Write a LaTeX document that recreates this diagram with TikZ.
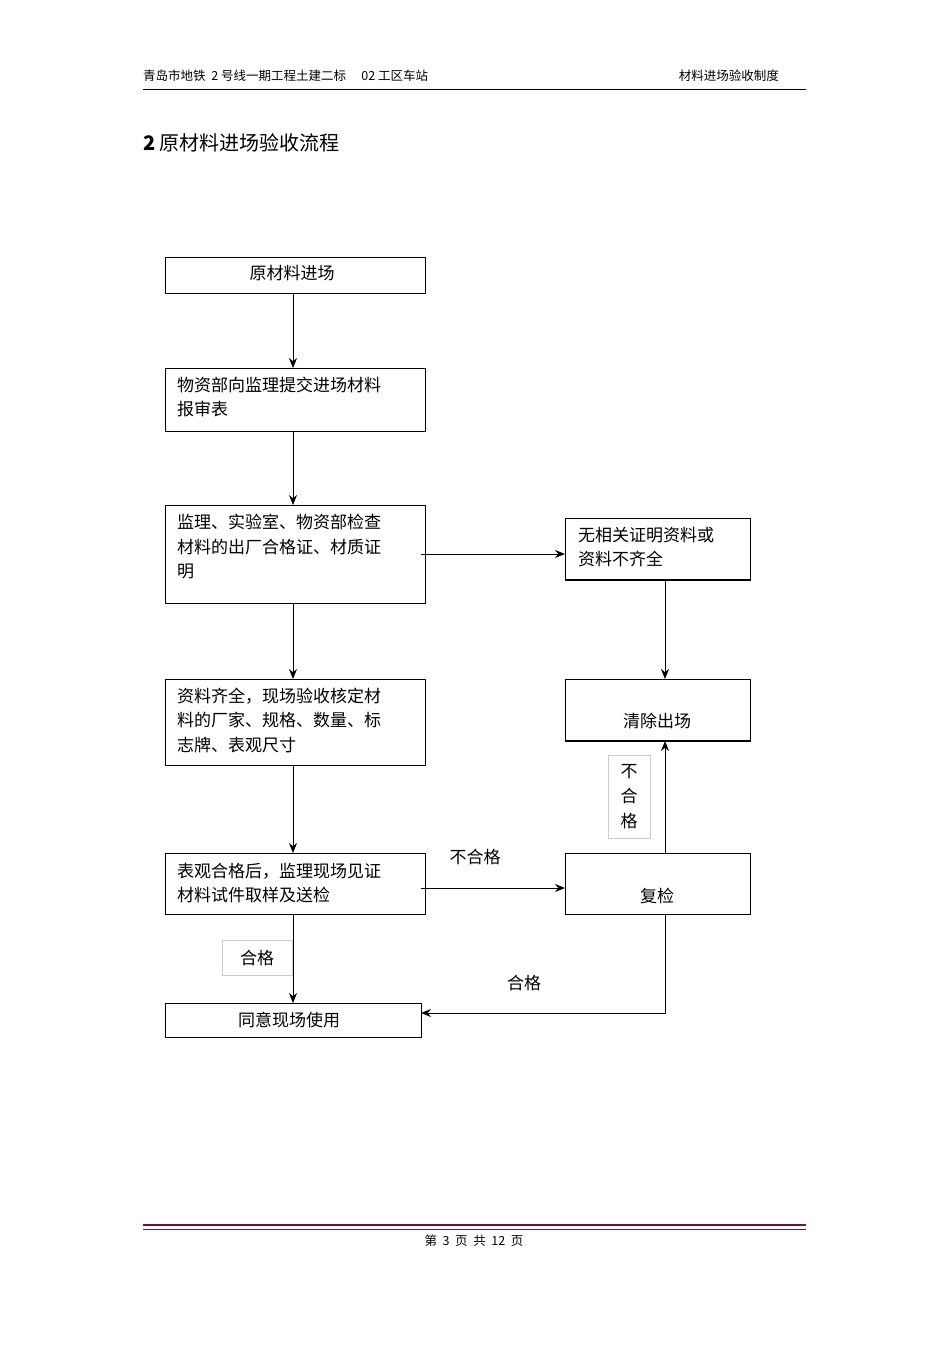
\documentclass[tikz,border=0pt]{standalone}
\usepackage{fontspec}
\setmainfont{Noto Sans CJK SC}
\usetikzlibrary{arrows.meta}
\begin{document}
\begin{tikzpicture}[x=1pt,y=-1pt,
 box/.style={draw,line width=0.8pt,inner sep=0},
 txt/.style={anchor=west,font=\fontsize{17}{24.5}\selectfont,align=left,inner sep=0},
 arr/.style={line width=1pt,-{Stealth[length=10pt,width=8pt]}},
 lbl/.style={draw=gray!40,line width=0.5pt,font=\fontsize{17}{24}\selectfont}]
\useasboundingbox (0,0) rectangle (950,1345);
\node[anchor=west,font=\fontsize{12.5}{14}\selectfont,inner sep=0] (h1) at (143,76) {青岛市地铁\ \ 2 号线一期工程土建二标\quad\ 02 工区车站};
\node[anchor=east,font=\fontsize{12.5}{14}\selectfont,inner sep=0] (h2) at (779,76) {材料进场验收制度};
\draw[line width=0.8pt] (143,89) -- (806,89);
\node[anchor=west,font=\fontsize{20}{22}\selectfont,inner sep=0] (t) at (143,143) {\textbf{2}\ 原材料进场验收流程};
% boxes
\draw[box] (165,257) rectangle (425,293); \node[font=\fontsize{17}{20}\selectfont] (b1) at (292,273) {原材料进场};
\draw[box] (165,368) rectangle (425,431); \node[txt] (b2) at (177,397) {物资部向监理提交进场材料\\报审表};
\draw[box] (165,505) rectangle (425,603); \node[txt] (b3) at (177,547) {监理、实验室、物资部检查\\材料的出厂合格证、材质证\\明};
\draw[box] (565,518) rectangle (750,580); \draw[line width=1.6pt] (565,580)--(750,580);
\node[txt] (b4) at (578,547) {无相关证明资料或\\资料不齐全};
\draw[box] (565,679) rectangle (750,741); \draw[line width=1.6pt] (565,741)--(750,741);
\node[font=\fontsize{17}{20}\selectfont] (b5) at (657,721) {清除出场};
\draw[box] (165,679) rectangle (425,765); \node[txt] (b6) at (177,720) {资料齐全，现场验收核定材\\料的厂家、规格、数量、标\\志牌、表观尺寸};
\draw[box] (165,853) rectangle (425,914); \node[txt] (b7) at (177,883) {表观合格后，监理现场见证\\材料试件取样及送检};
\draw[box] (565,853) rectangle (750,914); \node[font=\fontsize{17}{20}\selectfont] (b8) at (657,896) {复检};
\draw[box] (165,1003) rectangle (421,1037); \node[font=\fontsize{17}{20}\selectfont] (b9) at (289,1020) {同意现场使用};
% arrows
\coordinate (a1) at (293,293); \coordinate (a1e) at (293,368);
\coordinate (a2) at (293,431); \coordinate (a2e) at (293,505);
\coordinate (a3) at (293,603); \coordinate (a3e) at (293,679);
\coordinate (a4) at (293,765); \coordinate (a4e) at (293,853);
\coordinate (a5) at (293,914); \coordinate (a5e) at (293,1003);
\draw[arr] (a1)--(a1e); \draw[arr] (a2)--(a2e); \draw[arr] (a3)--(a3e); \draw[arr] (a4)--(a4e); \draw[arr] (a5)--(a5e);
\coordinate (c1) at (421,554); \coordinate (c1e) at (565,554); \draw[arr] (c1)--(c1e);
\coordinate (c2) at (665,580); \coordinate (c2e) at (665,679); \draw[arr] (c2)--(c2e);
\coordinate (c3) at (421,888); \coordinate (c3e) at (565,888); \draw[arr] (c3)--(c3e);
\coordinate (c4) at (665,853); \coordinate (c4e) at (665,741); \draw[arr] (c4)--(c4e);
\coordinate (c5) at (665,914); \coordinate (c5e) at (421,1013); \draw[arr] (c5)|-(c5e);
% labels
\node[font=\fontsize{17}{20}\selectfont] (l1) at (475,857) {不合格};
\node[font=\fontsize{17}{20}\selectfont] (l2) at (524,983) {合格};
\node[lbl,minimum width=70pt,minimum height=35pt] (l3) at (257,958) {合格};
\node[lbl,minimum width=42pt,minimum height=83pt,align=center,font=\fontsize{17}{25}\selectfont] (l4) at (629,797) {不\\合\\格};
% footer
\draw[line width=1.8pt,draw={rgb,255:red,110;green,20;blue,60}] (143,1225)--(806,1225);
\draw[line width=0.8pt,draw={rgb,255:red,110;green,20;blue,60}] (143,1229.5)--(806,1229.5);
\node[font=\fontsize{12.5}{14}\selectfont] (f) at (474,1241) {第\ \ 3\ \ 页\ \ 共\ \ 12\ \ 页};
\end{tikzpicture}
\end{document}
